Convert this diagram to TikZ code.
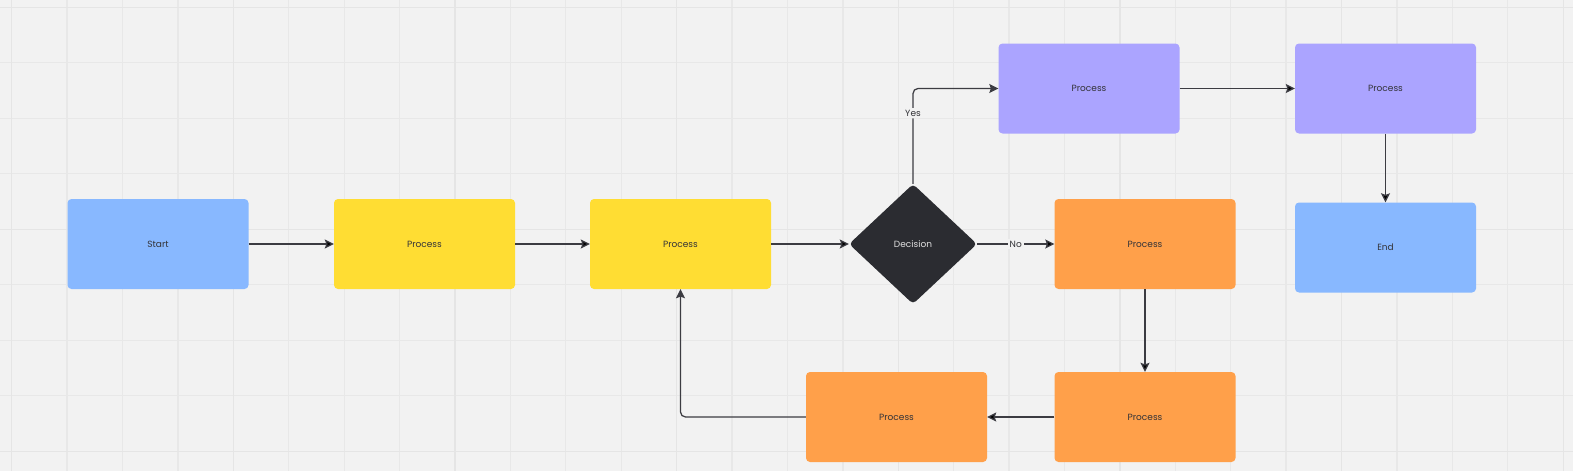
\documentclass[tikz,border=0pt]{standalone}
\usepackage{fontspec}
\setmainfont{Poppins}
\usetikzlibrary{arrows.meta,shapes.geometric}

\definecolor{bgcol}{HTML}{F2F2F2}
\definecolor{gridcol}{HTML}{E8E8E8}
\definecolor{gridmaj}{HTML}{E5E5E5}
\definecolor{inkcol}{HTML}{333338}
\definecolor{linecol}{HTML}{3C3C42}
\definecolor{startcol}{HTML}{88B8FF}
\definecolor{yelcol}{HTML}{FFDD33}
\definecolor{orgcol}{HTML}{FFA04A}
\definecolor{purcol}{HTML}{ABA4FF}
\definecolor{deccol}{HTML}{2B2C31}

\tikzset{
	box/.style={rectangle, rounded corners=4pt, minimum width=181pt, minimum height=90pt,
		inner sep=0pt, text=inkcol, font=\fontsize{9}{11}\selectfont},
	decbox/.style={diamond, rounded corners=4pt, minimum width=128pt, minimum height=120pt,
		inner sep=0pt, fill=deccol, text=white!88!black, font=\fontsize{9}{11}\selectfont},
	lbl/.style={fill=bgcol, inner sep=2pt, text=inkcol, font=\fontsize{9}{11}\selectfont},
	flow/.style={draw=linecol, line width=1.25pt, -{Stealth[length=9pt,width=9pt,inset=1.5pt]}},
}

\begin{document}
\begin{tikzpicture}[x=1pt, y=-1pt]
	% canvas and grid
	\fill[bgcol] (0,0) rectangle (1573,471);
	\useasboundingbox (0,0) rectangle (1573,471);
	\begin{scope}
	\clip (0,0) rectangle (1573,471);
	\foreach \i in {0,...,28}
		\draw[gridcol, line width=1.3pt] ({11.7+55.41*\i},0) -- ({11.7+55.41*\i},471);
	\foreach \j in {0,...,8}
		\draw[gridcol, line width=1.3pt] (0,{7.3+55.5*\j}) -- (1573,{7.3+55.5*\j});
	\foreach \i in {0,4,...,28}
		\draw[gridmaj, line width=1.3pt] ({11.7+55.41*\i},0) -- ({11.7+55.41*\i},471);
	\foreach \j in {0,4,8}
		\draw[gridmaj, line width=1.3pt] (0,{7.3+55.5*\j}) -- (1573,{7.3+55.5*\j});
	\end{scope}

	% main row
	\node[box, fill=startcol] (start) at (158,244)		{Start};
	\node[box, fill=yelcol] (p1) at (424.5,244)		{Process};
	\node[box, fill=yelcol] (p2) at (680.5,244)		{Process};
	\node[decbox] (dec) at (913,244)				{Decision};
	\node[box, fill=orgcol] (o1) at (1145,244)		{Process};

	% yes branch
	\node[box, fill=purcol] (u1) at (1089,88.5)		{Process};
	\node[box, fill=purcol] (u2) at (1385.5,88.5)		{Process};
	\node[box, fill=startcol] (fin) at (1385.5,247.5)	{End};

	% loop back
	\node[box, fill=orgcol] (o2) at (1145,417)		{Process};
	\node[box, fill=orgcol] (o3) at (896.5,417)		{Process};

	\path [flow] (start) edge (p1);
	\path [flow] (p1) edge (p2);
	\path [flow] (p2) edge (dec);
	\path [flow] (dec) edge node[lbl] {No} (o1);
	\draw [flow, rounded corners=5pt] (dec.north) |- node[lbl, pos=0.37] {Yes} (u1.west);
	\path [flow] (u1) edge (u2);
	\path [flow] (u2) edge (fin);
	\path [flow] (o1) edge (o2);
	\path [flow] (o2) edge (o3);
	\draw [flow, rounded corners=5pt] (o3.west) -| (p2.south);
\end{tikzpicture}
\end{document}
